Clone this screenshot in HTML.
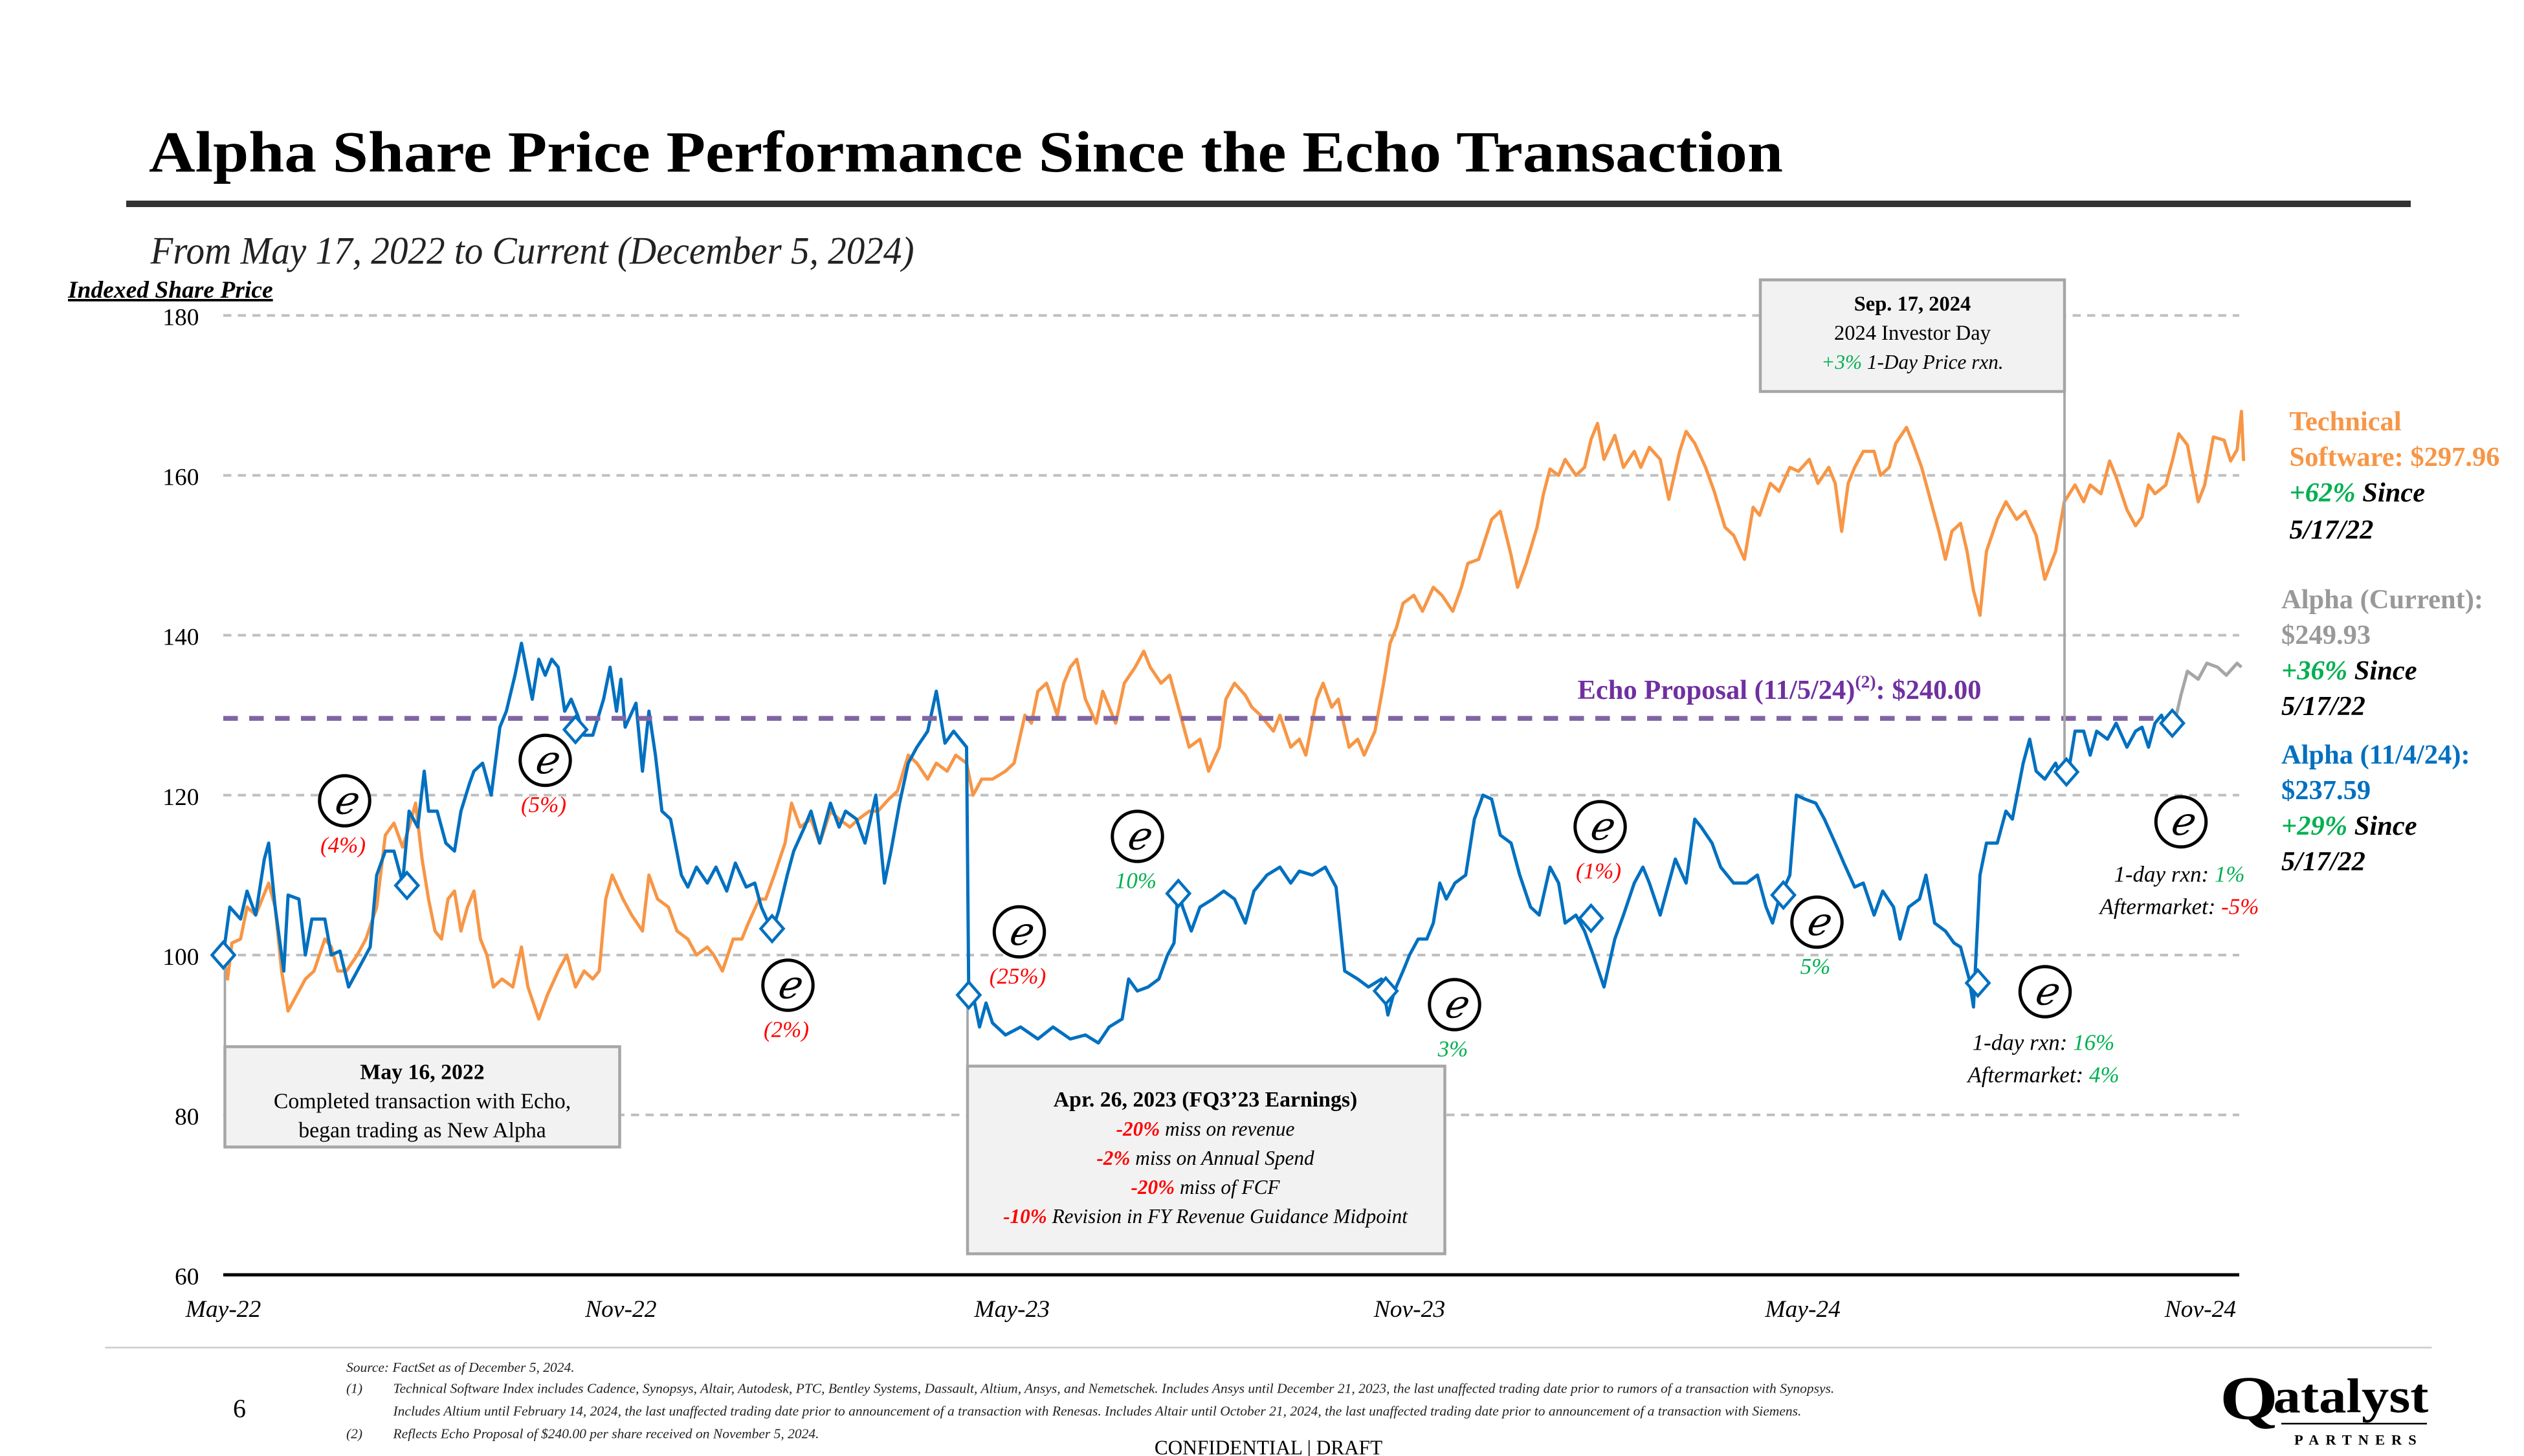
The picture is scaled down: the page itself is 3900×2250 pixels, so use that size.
<!DOCTYPE html>
<html><head><meta charset="utf-8">
<style>
html,body{margin:0;padding:0;background:#fff;}
svg{display:block;}
text{font-family:"Liberation Serif",serif;}
</style></head>
<body>
<svg id="chart" width="3900" height="2250" viewBox="0 0 1560 900" xmlns="http://www.w3.org/2000/svg">
<text x="92" y="106" font-size="36" font-weight="bold" textLength="1010" lengthAdjust="spacingAndGlyphs">Alpha Share Price Performance Since the Echo Transaction</text>
<rect x="78" y="124" width="1412" height="4" fill="#333"/>
<text x="93" y="163" font-size="24" font-style="italic" fill="#222" textLength="472" lengthAdjust="spacingAndGlyphs">From May 17, 2022 to Current (December 5, 2024)</text>
<text x="42" y="184" font-size="15" font-weight="bold" font-style="italic" text-decoration="underline">Indexed Share Price</text>
<g id="grid"></g>
<g id="series"></g>
<g id="annot"></g>
<text x="975" y="432" font-size="17" font-weight="bold" fill="#7030A0">Echo Proposal (11/5/24)<tspan font-size="11" dy="-7">(2)</tspan><tspan dy="7">: $240.00</tspan></text>

<g font-size="17" font-weight="bold">
<text x="1415" y="266" fill="#F79646">Technical</text>
<text x="1415" y="288" fill="#F79646">Software: $297.96</text>
<text x="1415" y="310" font-style="italic"><tspan fill="#00B050">+62%</tspan> Since</text>
<text x="1415" y="333" font-style="italic">5/17/22</text>
</g>
<g font-size="17" font-weight="bold">
<text x="1410" y="376" fill="#999">Alpha (Current):</text>
<text x="1410" y="398" fill="#999">$249.93</text>
<text x="1410" y="420" font-style="italic"><tspan fill="#00B050">+36%</tspan> Since</text>
<text x="1410" y="442" font-style="italic">5/17/22</text>
</g>
<g font-size="17" font-weight="bold">
<text x="1410" y="472" fill="#0070C0">Alpha (11/4/24):</text>
<text x="1410" y="494" fill="#0070C0">$237.59</text>
<text x="1410" y="516" font-style="italic"><tspan fill="#00B050">+29%</tspan> Since</text>
<text x="1410" y="538" font-style="italic">5/17/22</text>
</g>

<line x1="65" y1="833" x2="1503" y2="833" stroke="#ccc" stroke-width="1"/>
<text x="148" y="876" font-size="16" text-anchor="middle">6</text>
<g font-size="8.6" font-style="italic" fill="#222">
<text x="214" y="848">Source: FactSet as of December 5, 2024.</text>
<text x="214" y="861">(1)</text>
<text x="243" y="861">Technical Software Index includes Cadence, Synopsys, Altair, Autodesk, PTC, Bentley Systems, Dassault, Altium, Ansys, and Nemetschek. Includes Ansys until December 21, 2023, the last unaffected trading date prior to rumors of a transaction with Synopsys.</text>
<text x="243" y="875">Includes Altium until February 14, 2024, the last unaffected trading date prior to announcement of a transaction with Renesas. Includes Altair until October 21, 2024, the last unaffected trading date prior to announcement of a transaction with Siemens.</text>
<text x="214" y="889">(2)</text>
<text x="243" y="889">Reflects Echo Proposal of $240.00 per share received on November 5, 2024.</text>
</g>
<text x="784" y="899" font-size="12.5" text-anchor="middle">CONFIDENTIAL | DRAFT</text>
<g>
<text x="1372" y="877" font-size="38" font-weight="bold" fill="#000" textLength="36" lengthAdjust="spacingAndGlyphs">Q</text>
<text x="1405" y="873" font-size="30" font-weight="bold" fill="#000" textLength="96" lengthAdjust="spacingAndGlyphs">atalyst</text>
<line x1="1410" y1="880" x2="1500" y2="880" stroke="#000" stroke-width="1"/>
<text x="1418" y="893" font-size="9" font-weight="bold" letter-spacing="4">PARTNERS</text>
</g>
</svg>
<script>
// ---- data ----
const yTicks = [60, 80, 100, 120, 140, 160, 180];
const xTickLabels = ["May-22","Nov-22","May-23","Nov-23","May-24","Nov-24"];
const xTickDays = [0, 184, 365, 549, 731, 915];
const echoProposal = 129.6;
const alphaDays = [0,3,8,11,15,19,21,24,28,30,35,38,41,47,50,54,58,62,68,71,75,79,83,86,90,93,95,99,103,107,110,114,116,120,124,128,131,135,138,143,146,149,152,155,158,161,164,167,171,176,179,182,184,186,191,194,197,200,203,207,212,215,219,224,228,233,237,242,246,249,254,257,261,264,269,272,276,281,285,288,293,297,302,306,309,313,317,321,326,330,334,338,341,344,345,347,350,353,356,362,369,377,384,392,399,405,410,416,419,423,428,433,437,440,442,444,448,452,458,463,468,473,477,483,489,494,498,504,510,515,519,525,530,536,539,542,546,549,553,557,560,563,566,570,575,579,583,587,591,596,600,605,609,614,618,621,626,630,634,639,644,648,653,657,660,665,668,672,677,681,684,689,693,699,705,710,714,717,720,725,728,732,737,741,746,750,755,759,764,768,773,776,780,785,788,792,797,801,804,808,810,813,816,821,825,828,833,836,839,843,848,851,854,857,861,864,867,872,876,881,885,888,891,894,897,900,903];
const alphaVals = [100,106,104.5,108,105,112,114,106,98,107.5,107,100,104.5,104.5,100,100.5,96,98,101,110,113,113,109,118,116,123,118,118,114,113,118,121.5,123,124,120,128.5,130.5,135,139,132,137,135,137,136,130.5,132,130,127.5,127.5,132,136,130.5,134.5,128.5,131.5,123,130.5,125,118,117,110,108.5,111,109,111,108,111.5,108.5,109,106,103,105.5,110,113,116,118,114,119,116,118,117,114,120,109,113,119,124,126,128,133,126.5,128,127,126,95,95,91,94,91.5,90,91,89.5,91,89.5,90,89,91,92,97,95.5,96,97,100,101.5,108.3,106,103,106,107,108,107,104,108,110,111,109,110.5,110,111,108.5,98,97,96,97,92.5,95.5,98,100,102,102,104,109,107,109,110,117,120,119.5,115,114,110,106,105,111,109,104,105,103,100,96,102,105,109,111,109,105,108,112,109,117,116,114,111,109,109,110,106,104,107,110,120,119.5,119,117,114,111.5,108.5,109,105,108,106,102,106,107,110,104,103,101.5,101,97,93.5,110,114,114,118,117,124,127,123,122,124,122,123,128,128,125,128,127,129,126,128,128.5,126,129,130,128,129];
const alphaCurDays = [903,906,909,914,918,923,927,932,934];
const alphaCurVals = [129,132.5,135.5,134.5,136.5,136,135,136.5,136];
const techDays = [0,2,4,8,11,15,18,21,24,27,30,34,38,42,47,50,53,57,62,66,71,75,79,83,86,89,92,95,98,101,104,107,110,113,116,119,122,125,129,134,138,141,146,150,155,159,163,167,171,174,177,180,185,189,194,197,201,206,210,215,219,224,227,231,236,240,243,248,251,255,260,263,267,272,276,281,285,290,294,299,303,308,312,317,321,326,330,335,339,344,347,351,356,362,366,371,374,377,381,386,389,392,395,399,404,407,410,413,417,422,426,429,434,438,443,447,452,456,461,464,468,473,476,480,486,489,494,498,501,506,509,513,516,521,525,528,533,537,540,543,546,551,555,560,564,569,573,576,581,584,587,591,596,599,603,608,611,614,618,621,626,630,633,636,639,644,648,653,656,660,665,669,674,677,681,686,690,695,699,704,708,711,716,720,725,729,734,738,743,746,749,752,755,759,764,767,771,774,779,782,786,789,794,797,800,804,807,810,813,816,821,825,830,834,839,843,848,852,857,861,864,869,873,876,881,885,888,891,894,899,902,905,909,914,917,921,926,929,932,934,935];
const techVals = [100,97,101.5,102,106,105,107,109,106,98,93,95,97,98,102,101,98,98,100,102,106,115,116.5,113.5,116,119,112,107,103,102,107,108,103,106,108,102,100,96,97,96,101,96,92,95,98,100,96,98,97,98,107,110,107,105,103,110,107,106,103,102,100,101,100,98,102,102,104,107,107,110,114,119,116,117,114,118,117,116,117,118,118,119.5,120.5,125,124,122,124,123,125,124,120,122,122,123,124,130,129,133,134,130,134,136,137,132,129,133,131,129,134,136,138,136,134,135,130,126,127,123,126,132,134,132.5,131,130,128,130,126,127,125,132,134,131,132,126,127,125,128,134,139,141,144,145,143,146,145,143,146,149,149.5,152,154.5,155.5,150,146,149,153.5,157.7,160.8,160,162,160,161,164.5,166.5,162,165,161,163,161,163.5,162,157,163,165.5,164,161,158,153.5,152.5,149.5,156,155,159,158,161,160.5,162,159,161,159,153,159,161,163,163,160,161,164,166,164,161,158,153,149.5,153,154,150.5,145.6,142.5,150.5,154.5,156.7,154.5,155.5,152.5,147,150.5,156.7,158.8,156.7,158.8,157.7,161.8,159.8,155.7,153.7,154.8,158.8,157.7,158.8,161.8,165.2,163.8,156.7,158.8,164.8,164.4,161.8,163.2,168,161.8];
const eventDays = [0, 85, 163, 254, 345, 442, 538, 633, 722, 812, 853, 902];
const eventVals = [100, 108.7, 128.2, 103.3, 95, 107.7, 95.5, 104.6, 107.5, 96.5, 122.9, 129];
const eventLabels = ["(4%)","(5%)","(2%)","(25%)","10%","3%","(1%)","5%"];
const eventLabelColors = ["#FF0000","#FF0000","#FF0000","#FF0000","#00B050","#00B050","#FF0000","#00B050"];

// ---- scales ----
const X0 = 138, PX_PER_DAY = 1.3355;
const xS = d => X0 + d * PX_PER_DAY;
const yS = v => 788 - (v - 60) * (593 / 120);
const NS = "http://www.w3.org/2000/svg";
function mk(tag, attrs, parent){ const e=document.createElementNS(NS,tag); for(const k in attrs) e.setAttribute(k,attrs[k]); parent.appendChild(e); return e; }

const grid = document.getElementById('grid');
yTicks.forEach(t => {
  if (t > 60) {
    const gl = mk('line',{x1:138,x2:1384,y1:yS(t),y2:yS(t),stroke:'#bfbfbf','stroke-width':1.6,'stroke-dasharray':'5 4'},grid);
    
    
  }
  const tl = mk('text',{x:123,y:yS(t)+6,'font-size':15,'text-anchor':'end'},grid);
  tl.textContent = t;
  
  
});
const ax = mk('line',{x1:138,x2:1384,y1:788,y2:788,stroke:'#000','stroke-width':2},grid);


xTickLabels.forEach((lab,i) => {
  const t = mk('text',{x:xS(xTickDays[i]),y:814,'font-size':15,'font-style':'italic','text-anchor':'middle'},grid);
  t.textContent = lab;
  
  
});

const ser = document.getElementById('series');
function line(days, vals, color, name){
  const n = Math.min(days.length, vals.length);
  let d = '';
  for (let i=0;i<n;i++) d += (i?'L':'M') + xS(days[i]).toFixed(2) + ' ' + yS(vals[i]).toFixed(2);
  const p = mk('path',{d:d,fill:'none',stroke:color,'stroke-width':2,'stroke-linejoin':'round'},ser);
  
  
}
line(techDays, techVals, '#F79646', 'technical-software-line');
line(alphaCurDays, alphaCurVals, '#A6A6A6', 'alpha-current-line');
line(alphaDays, alphaVals, '#0070C0', 'alpha-line');
const echo = mk('line',{x1:138,x2:1346,y1:yS(echoProposal),y2:yS(echoProposal),stroke:'#8064A2','stroke-width':3,'stroke-dasharray':'9 7'},ser);



const an = document.getElementById('annot');
function box(x1,y1,x2,y2,name){
  const r = mk('rect',{x:x1,y:y1,width:x2-x1,height:y2-y1,fill:'#f2f2f2',stroke:'#a6a6a6','stroke-width':1.8},an);
  
  
}
function conn(x,y1,y2,name){
  const l = mk('line',{x1:x,x2:x,y1:y1,y2:y2,stroke:'#a6a6a6','stroke-width':1.5},an);
  
  
}
conn(139, yS(100), 647, 'may-2022-connector');
conn(598, yS(95), 659, 'apr-2023-connector');
conn(1276, 242, yS(122.9), 'sep-2024-connector');
box(139,647,383,709,'may-2022-callout');
box(598,659,893,775,'apr-2023-callout');
box(1088,173,1276,242,'sep-2024-callout');

eventDays.forEach((d,i)=>{
  const cx=xS(d), cy=yS(eventVals[i]);
  const p = mk('polygon',{points:`${cx},${cy-8} ${cx+7},${cy} ${cx},${cy+8} ${cx-7},${cy}`,fill:'#fff',stroke:'#0070C0','stroke-width':1.8},an);
  
  
});

const eCircles = [[213,495],[337,470],[487,609],[630,576],[703,517],[899,621],[989,511],[1123,570],[1264,613],[1348,508]];
eCircles.forEach((c,i)=>{
  const g = mk('g',{},an);
  
  
  mk('circle',{cx:c[0],cy:c[1],r:15.5,fill:'#fff',stroke:'#000','stroke-width':2},g);
  const t = mk('text',{x:c[0],y:c[1]+8,'font-size':24,'font-style':'italic','text-anchor':'middle'},g);
  t.textContent = 'ℯ';
  if (i < eventLabels.length) {
    const l = mk('text',{x:c[0]-1,y:c[1]+32,'font-size':14,'font-style':'italic','text-anchor':'middle',fill:eventLabelColors[i]},an);
    l.textContent = eventLabels[i];
    
    
  }
});

function richText(x,y,size,parts,name,anchor){
  const t = mk('text',{x:x,y:y,'font-size':size,'text-anchor':anchor||'middle'},an);
  
  
  parts.forEach(p=>{ const s=mk('tspan',p[1]||{},t); s.textContent=p[0]; });
}
richText(1263,649,14,[['1-day rxn: ',{'font-style':'italic'}],['16%',{'font-style':'italic',fill:'#00B050'}]],'q-rxn-16');
richText(1263,669,14,[['Aftermarket: ',{'font-style':'italic'}],['4%',{'font-style':'italic',fill:'#00B050'}]],'q-aftermarket-4');
richText(1347,545,14,[['1-day rxn: ',{'font-style':'italic'}],['1%',{'font-style':'italic',fill:'#00B050'}]],'q-rxn-1');
richText(1347,565,14,[['Aftermarket: ',{'font-style':'italic'}],['-5%',{'font-style':'italic',fill:'#FF0000'}]],'q-aftermarket-5');

richText(261,667,13.5,[['May 16, 2022',{'font-weight':'bold'}]],'may-2022-title');
richText(261,685,13.5,[['Completed transaction with Echo,']],'may-2022-line1');
richText(261,703,13.5,[['began trading as New Alpha']],'may-2022-line2');

richText(745,684,13.5,[['Apr. 26, 2023 (FQ3’23 Earnings)',{'font-weight':'bold'}]],'apr-2023-title');
richText(745,702,12.5,[['-20%',{'font-weight':'bold','font-style':'italic',fill:'#FF0000'}],['  miss on revenue',{'font-style':'italic'}]],'apr-2023-line1');
richText(745,720,12.5,[['-2%',{'font-weight':'bold','font-style':'italic',fill:'#FF0000'}],['  miss on Annual Spend',{'font-style':'italic'}]],'apr-2023-line2');
richText(745,738,12.5,[['-20%',{'font-weight':'bold','font-style':'italic',fill:'#FF0000'}],[' miss of FCF',{'font-style':'italic'}]],'apr-2023-line3');
richText(745,756,12.5,[['-10%',{'font-weight':'bold','font-style':'italic',fill:'#FF0000'}],[' Revision in FY Revenue Guidance Midpoint',{'font-style':'italic'}]],'apr-2023-line4');

richText(1182,192,13,[['Sep. 17, 2024',{'font-weight':'bold'}]],'sep-2024-title');
richText(1182,210,13,[['2024 Investor Day']],'sep-2024-line1');
richText(1182,228,12.5,[['+3%',{'font-style':'italic',fill:'#00B050'}],['  1-Day Price rxn.',{'font-style':'italic'}]],'sep-2024-line2');
</script>
</body></html>
